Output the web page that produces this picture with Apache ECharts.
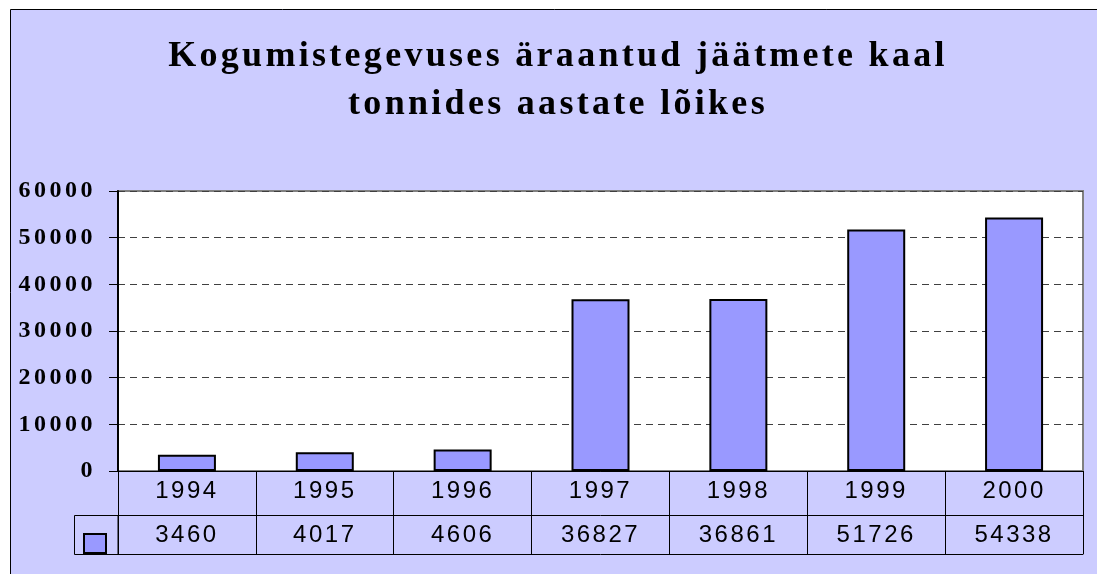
<!DOCTYPE html>
<html>
<head>
<meta charset="utf-8">
<script src="https://cdn.jsdelivr.net/npm/echarts@6/dist/echarts.min.js"></script>
<style>
  html, body { margin: 0; padding: 0; background: #fff; }
  #chart { width: 1097px; height: 574px; }
</style>
</head>
<body>
<div id="chart"></div>
<script>
// ---- data ----
const titleLines = ['Kogumistegevuses äraantud jäätmete kaal', 'tonnides aastate lõikes'];
const years = ['1994', '1995', '1996', '1997', '1998', '1999', '2000'];
const values = [3460, 4017, 4606, 36827, 36861, 51726, 54338];
const seriesName = 'Kaal';
const yMin = 0, yMax = 60000, yStep = 10000;

// letter spacing for canvas text (the reference uses spaced lettering)
const spacingRules = [
  ['36px', 'Liberation Serif', '3.3px'],
  ['24px', 'Liberation Serif', '3.5px'],
  ['24px', 'Liberation Sans', '2.5px']
];
const origFill = CanvasRenderingContext2D.prototype.fillText;
CanvasRenderingContext2D.prototype.fillText = function (t, x, y, m) {
  if ('letterSpacing' in this) {
    const f = this.font;
    let ls = '0px';
    for (const r of spacingRules) {
      if (f.indexOf(r[0]) >= 0 && f.indexOf(r[1]) >= 0) { ls = r[2]; }
    }
    this.letterSpacing = ls;
  }
  return m === undefined ? origFill.call(this, t, x, y) : origFill.call(this, t, x, y, m);
};

const chart = echarts.init(document.getElementById('chart'), null, { renderer: 'canvas' });

const tableLabel = { interval: 0, margin: 8, fontFamily: 'Liberation Sans', fontSize: 24, color: '#000' };

const option = {
  backgroundColor: '#ffffff',
  animation: false,
  graphic: [
    {
      type: 'rect', z: -10, silent: true,
      shape: { x: 10.5, y: 9.5, width: 1100, height: 600 },
      style: { fill: '#CCCCFF', stroke: '#000', lineWidth: 1 }
    },
    {
      type: 'text', z: 10, x: 558, y: 33,
      style: {
        text: titleLines.join('\n'),
        font: 'bold 36px "Liberation Serif"',
        fontFamily: 'Liberation Serif', fontSize: 36, fontWeight: 'bold',
        lineHeight: 48, fill: '#000',
        align: 'center', textAlign: 'center', verticalAlign: 'top', textVerticalAlign: 'top'
      }
    },
    {
      type: 'rect', z: 10, silent: true,
      shape: { x: 74.5, y: 515.5, width: 43.5, height: 39 },
      style: { fill: 'none', stroke: '#000', lineWidth: 1 }
    }
  ],
  legend: {
    data: [seriesName], left: 83, top: 533, padding: 0,
    itemWidth: 22, itemHeight: 19, icon: 'rect', selectedMode: false,
    formatter: function () { return ''; },
    itemStyle: { color: '#9999FF', borderColor: '#000', borderWidth: 2 }
  },
  grid: {
    left: 118, top: 191, right: 14, bottom: 103,
    show: true, backgroundColor: '#ffffff', borderColor: '#808080', borderWidth: 2
  },
  xAxis: [
    {
      type: 'category', data: years, position: 'bottom',
      axisLine: { show: true, lineStyle: { color: '#000', width: 1 } },
      axisTick: { show: true, interval: 0, length: 83, lineStyle: { color: '#000', width: 1 } },
      axisLabel: tableLabel,
      splitLine: { show: false }
    },
    {
      type: 'category', data: values.map(String), position: 'bottom', offset: 44,
      axisLine: { show: true, lineStyle: { color: '#000', width: 1 } },
      axisTick: { show: false },
      axisLabel: tableLabel,
      splitLine: { show: false }
    },
    {
      type: 'category', data: years, position: 'bottom', offset: 83,
      axisLine: { show: true, lineStyle: { color: '#000', width: 1 } },
      axisTick: { show: false },
      axisLabel: { show: false },
      splitLine: { show: false }
    }
  ],
  yAxis: {
    type: 'value', min: yMin, max: yMax, interval: yStep,
    axisLine: { show: true, lineStyle: { color: '#000', width: 2 } },
    axisTick: { show: true, length: 9, lineStyle: { color: '#000', width: 1 } },
    axisLabel: {
      margin: 22, fontFamily: 'Liberation Serif', fontWeight: 'bold', fontSize: 24, color: '#000',
      formatter: function (v) { return String(v); }
    },
    splitLine: { show: true, lineStyle: { color: '#404040', width: 1, type: [7, 5] } }
  },
  series: [
    {
      name: seriesName, type: 'bar', xAxisIndex: 0, yAxisIndex: 0,
      data: values, barWidth: 58,
      itemStyle: { color: '#9999FF', borderColor: '#000', borderWidth: 2 }
    }
  ]
};
chart.setOption(option);
</script>
</body>
</html>
